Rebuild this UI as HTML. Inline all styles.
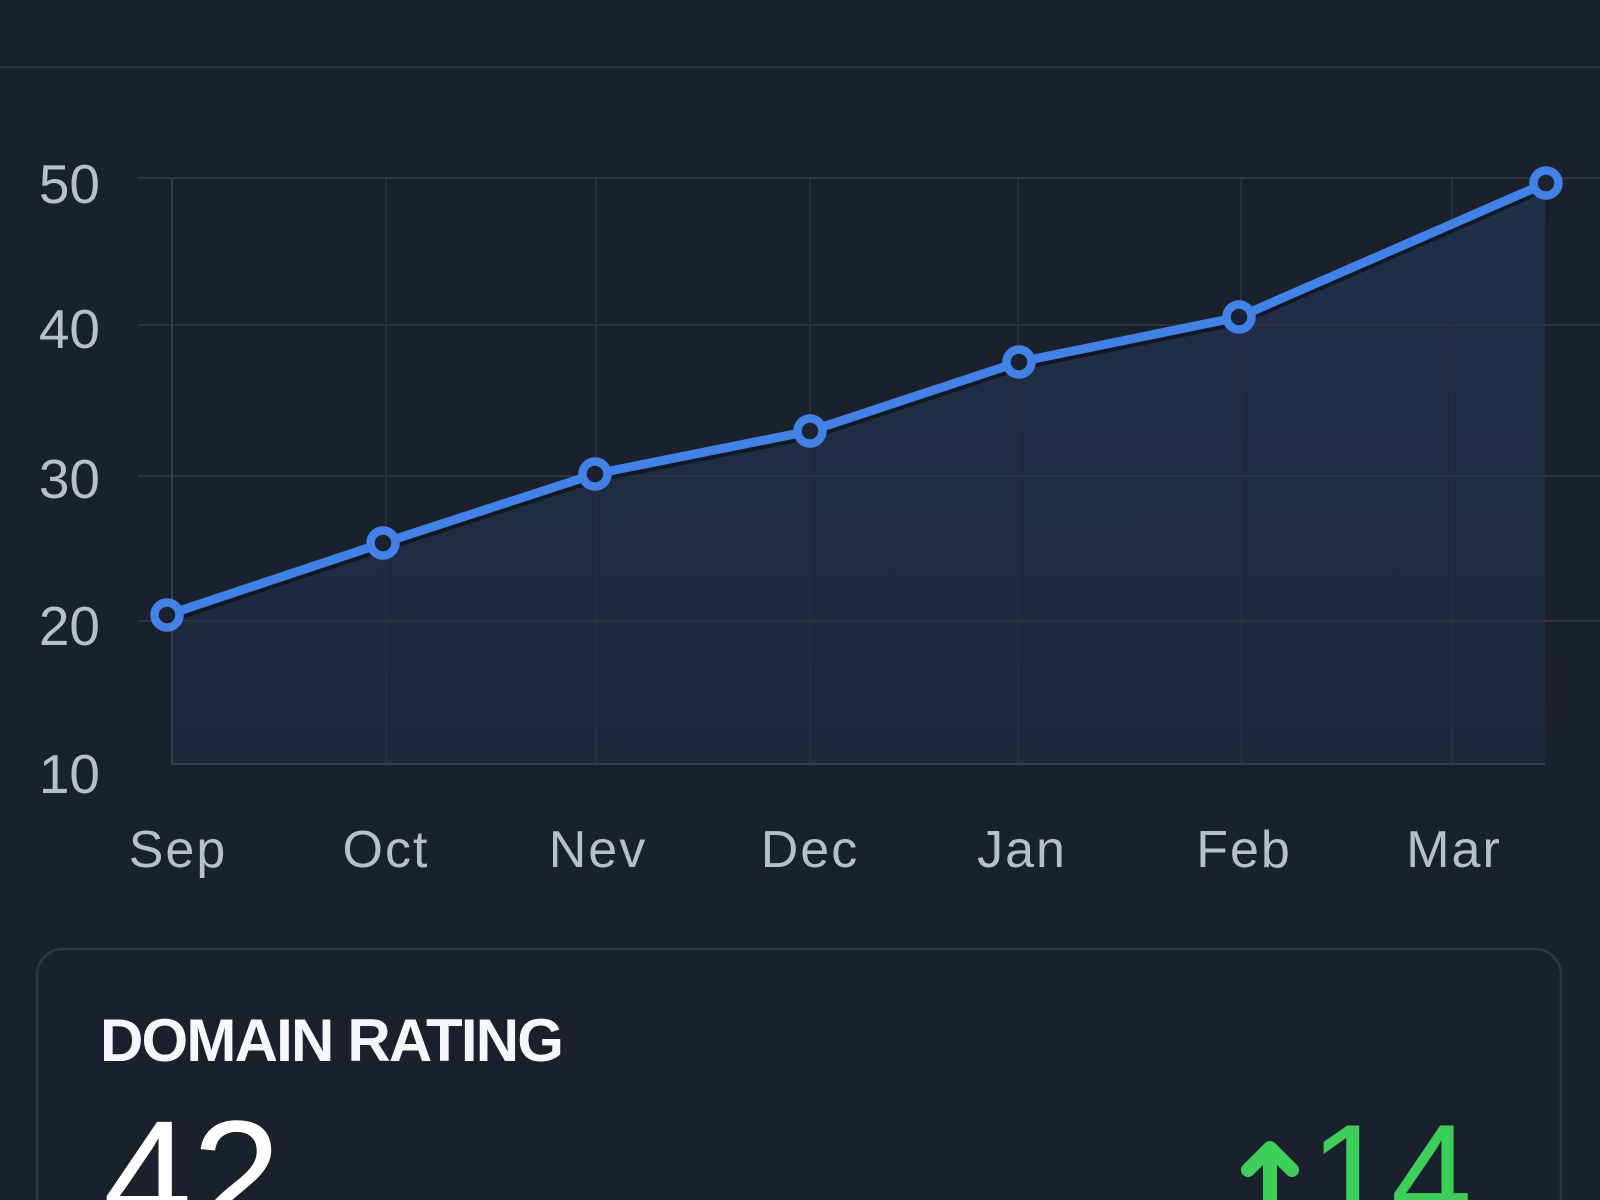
<!DOCTYPE html>
<html>
<head>
<meta charset="utf-8">
<style>
  html, body { margin: 0; padding: 0; background: #1b212c; }
  body { width: 1600px; height: 1200px; overflow: hidden; }
  svg { display: block; }
</style>
</head>
<body>
<svg width="1600" height="1200" viewBox="0 0 1600 1200" xmlns="http://www.w3.org/2000/svg">
  <defs>
    <linearGradient id="area" x1="0" y1="0" x2="0" y2="1">
      <stop offset="0" stop-color="#20304a"/>
      <stop offset="1" stop-color="#1d283b"/>
    </linearGradient>
  </defs>
  <rect x="0" y="0" width="1600" height="1200" fill="#1b212c"/>
  <!-- header divider -->
  <line x1="0" y1="67" x2="1600" y2="67" stroke="#29313c" stroke-width="2"/>

  <!-- area fill -->
  <polygon points="172,613 383,543 595,474 810,431 1019,362 1239,317 1545,183 1545,764 172,764" fill="url(#area)"/>

  <!-- horizontal gridlines -->
  <g stroke="#2a3340" stroke-width="2">
    <line x1="138" y1="178" x2="1600" y2="178"/>
    <line x1="138" y1="325" x2="1600" y2="325"/>
    <line x1="138" y1="476" x2="1600" y2="476"/>
    <line x1="138" y1="621" x2="1600" y2="621"/>
  </g>
  <!-- vertical gridlines -->
  <g stroke="#262f3c" stroke-width="2">
    <line x1="386" y1="178" x2="386" y2="764"/>
    <line x1="596" y1="178" x2="596" y2="764"/>
    <line x1="810" y1="178" x2="810" y2="764"/>
    <line x1="1018" y1="178" x2="1018" y2="764"/>
    <line x1="1241" y1="178" x2="1241" y2="764"/>
    <line x1="1452" y1="178" x2="1452" y2="764"/>
  </g>
  <!-- axes -->
  <line x1="172" y1="178" x2="172" y2="765" stroke="#343e4b" stroke-width="2"/>
  <line x1="172" y1="764" x2="1545" y2="764" stroke="#34404f" stroke-width="2"/>

  <!-- line shadow -->
  <polyline points="167,615 383,543 595,474 810,431 1019,362 1239,317 1546,183" fill="none" stroke="#0c1016" stroke-opacity="0.7" stroke-width="11" stroke-linejoin="round" stroke-linecap="round" transform="translate(0,3)"/>
  <!-- line -->
  <polyline points="167,615 383,543 595,474 810,431 1019,362 1239,317 1546,183" fill="none" stroke="#4281e6" stroke-width="9" stroke-linejoin="round" stroke-linecap="round"/>
  <!-- markers -->
  <g fill="#1b2332" stroke="#4281e6" stroke-width="8.5">
    <circle cx="167" cy="615" r="12.5"/>
    <circle cx="383" cy="543" r="12.5"/>
    <circle cx="595" cy="474" r="12.5"/>
    <circle cx="810" cy="431" r="12.5"/>
    <circle cx="1019" cy="362" r="12.5"/>
    <circle cx="1239" cy="317" r="12.5"/>
    <circle cx="1546" cy="183" r="12.5"/>
  </g>

  <!-- y labels -->
  <g font-family="Liberation Sans, sans-serif" font-size="55" fill="#b9bfc8" text-anchor="end">
    <text x="100" y="203">50</text>
    <text x="100" y="348">40</text>
    <text x="100" y="498">30</text>
    <text x="100" y="645">20</text>
    <text x="100" y="793">10</text>
  </g>
  <!-- x labels -->
  <g font-family="Liberation Sans, sans-serif" font-size="52" fill="#b9bfc8" text-anchor="middle" letter-spacing="2">
    <text x="178" y="867">Sep</text>
    <text x="386" y="867">Oct</text>
    <text x="598" y="867">Nev</text>
    <text x="810" y="867">Dec</text>
    <text x="1022" y="867">Jan</text>
    <text x="1244" y="867">Feb</text>
    <text x="1454" y="867">Mar</text>
  </g>

  <!-- card -->
  <path d="M37,1200 L37,975 A26,26 0 0 1 63,949 L1535,949 A26,26 0 0 1 1561,975 L1561,1200" fill="none" stroke="#2d3642" stroke-width="2.5"/>
  <text x="100" y="1061" font-family="Liberation Sans, sans-serif" font-weight="bold" font-size="60" letter-spacing="-1.8" fill="#f5f7fa">DOMAIN RATING</text>
  <text x="103" y="1232" font-family="Liberation Sans, sans-serif" font-size="160" fill="#ffffff">42</text>

  <!-- green arrow -->
  <g stroke="#3ecf5a" stroke-width="14" fill="none" stroke-linecap="round" stroke-linejoin="round">
    <polyline points="1248,1170 1270,1148 1292,1170"/>
    <line x1="1270" y1="1150" x2="1270" y2="1215"/>
  </g>
  <text x="1472" y="1226" font-family="Liberation Sans, sans-serif" font-size="146" fill="#3ecf5a" text-anchor="end">14</text>
</svg>
</body>
</html>
